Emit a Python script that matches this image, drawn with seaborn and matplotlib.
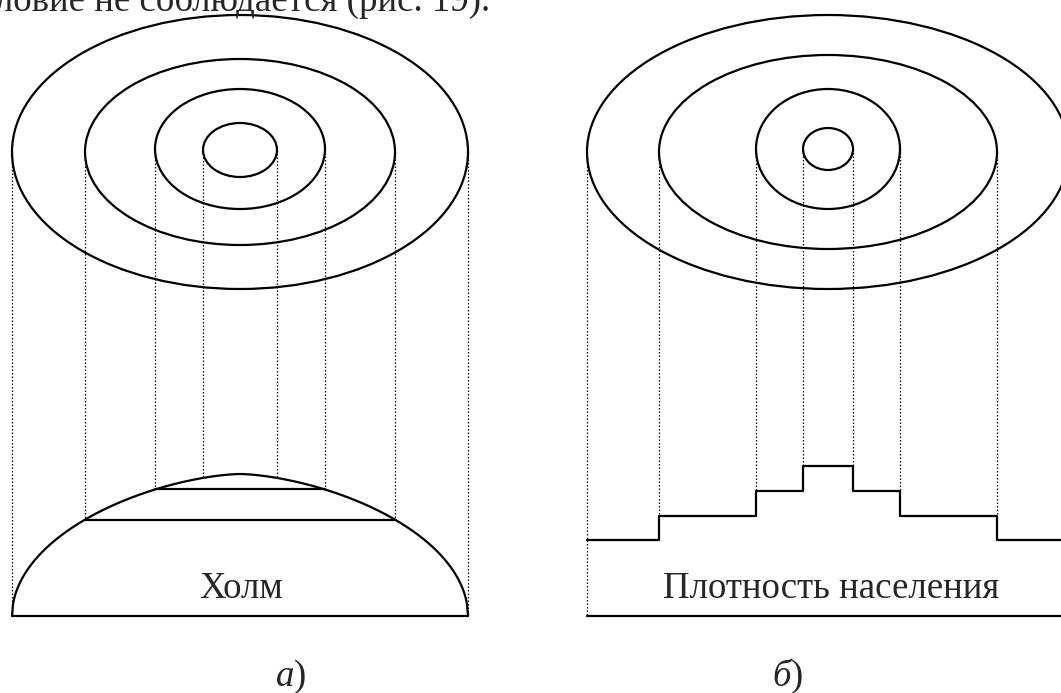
import numpy as np
import pandas as pd
import matplotlib.pyplot as plt
from matplotlib.patches import Ellipse
import seaborn as sns

# geometry of the two panels (pixel units, y grows downward)
left_cx = 240
left_rx = [37, 85, 155, 228]
left_ry = [27, 60, 93, 137]
left_cy = [150, 149, 152, 152]

right_cx = 828
right_rx = [25, 72, 169, 241]
right_ry = [21, 60, 97, 137]
right_cy = [149, 149, 152, 152]

base_y = 616
hill_height = 142
# density level above the base line, inner ring -> outer ring
density_levels = [150, 125, 100, 76]

top_text = "условие не соблюдается (рис. 19)."
left_label = "Холм"
right_label = "Плотность населения"
captions = ["а", "б"]

sns.set_theme(style="white")
plt.rcParams['font.family'] = ['Liberation Serif', 'DejaVu Serif']

fig = plt.figure(figsize=(10.61, 6.93), dpi=100)
ax = fig.add_axes([0, 0, 1, 1])
ax.set_xlim(0, 1061)
ax.set_ylim(693, 0)
ax.axis('off')

solid = dict(color='black', lw=1.6)
dotted = dict(color='black', lw=0.9, linestyle=(0, (1.2, 1.6)))

# contour ellipses
for cx, rxs, rys, cys in [(left_cx, left_rx, left_ry, left_cy),
                          (right_cx, right_rx, right_ry, right_cy)]:
    for rx, ry, cy in zip(rxs, rys, cys):
        ax.add_patch(Ellipse((cx, cy), 2 * rx, 2 * ry, fill=False,
                             ec='black', lw=1.6))


def hill_y(x):
    u = np.clip(np.abs(x - left_cx) / left_rx[-1], 0, 1)
    return base_y - hill_height * np.sqrt(1 - u ** 1.6)


# hill profile
hx = np.linspace(left_cx - left_rx[-1], left_cx + left_rx[-1], 400)
hill = pd.DataFrame({"x": hx, "y": hill_y(hx)})
sns.lineplot(data=hill, x="x", y="y", sort=False, estimator=None, ax=ax, **solid)
ax.plot([left_cx - left_rx[-1], left_cx + left_rx[-1]], [base_y, base_y], **solid)

# horizontal sections of the hill
for rx in left_rx[1:3]:
    yy = hill_y(left_cx + rx)
    ax.plot([left_cx - rx, left_cx + rx], [yy, yy], **solid)

# projection lines, left
for rx, cy in zip(left_rx, left_cy):
    for x in (left_cx - rx, left_cx + rx):
        ax.plot([x, x], [cy, hill_y(x)], **dotted)

# stepped density profile
edges = [right_cx - r for r in right_rx[::-1]] + [right_cx + r for r in right_rx]
levels = density_levels[::-1] + density_levels[1:]
sx, sy = [edges[0]], [base_y - levels[0]]
for i, lev in enumerate(levels):
    sx += [edges[i], edges[i + 1]]
    sy += [base_y - lev, base_y - lev]
    if i + 1 < len(levels):
        sx.append(edges[i + 1])
        sy.append(base_y - levels[i + 1])
sx.append(1075)
sy.append(base_y - levels[-1])
steps = pd.DataFrame({"x": sx, "y": sy})
sns.lineplot(data=steps, x="x", y="y", sort=False, estimator=None, ax=ax, **solid)
ax.plot([edges[0], 1075], [base_y, base_y], **solid)

# projection lines, right
for rx, cy, lev in zip(right_rx, right_cy, density_levels):
    ax.plot([right_cx - rx] * 2, [cy, base_y - lev], **dotted)
    ax.plot([right_cx + rx] * 2, [cy, base_y - lev], **dotted)
ax.plot([edges[0]] * 2, [base_y - levels[0], base_y], **dotted)

fs = 26.6
ax.text(490, 11, top_text, ha='right', va='baseline', fontsize=fs)
ax.text(241, 598, left_label, ha='center', va='baseline', fontsize=fs)
ax.text(831.5, 598, right_label, ha='center', va='baseline', fontsize=fs)
for x, c in zip([294, 791], captions):
    ax.text(x, 686, c, ha='right', va='baseline', fontsize=fs, style='italic')
    ax.text(x, 686, ")", ha='left', va='baseline', fontsize=fs)

fig.savefig("out.png", dpi=100)
